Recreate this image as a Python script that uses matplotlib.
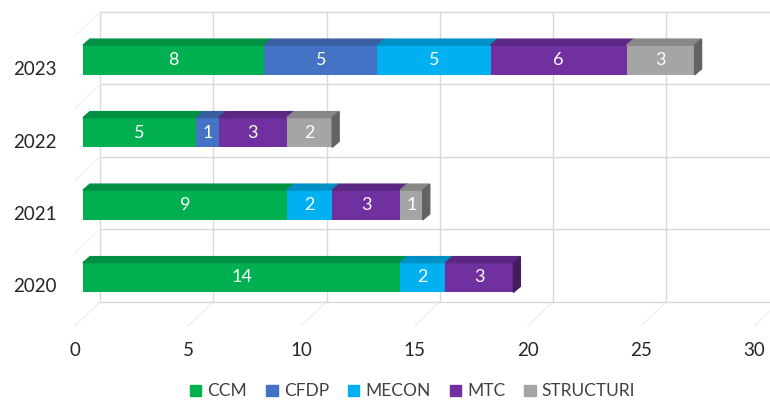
import matplotlib.pyplot as plt
from matplotlib.patches import Polygon, Patch
from matplotlib.transforms import ScaledTranslation
import numpy as np

years = ["2020", "2021", "2022", "2023"]
series = ["CCM", "CFDP", "MECON", "MTC", "STRUCTURI"]
ccm = [14, 9, 5, 8]
cfdp = [0, 0, 1, 5]
mecon = [2, 2, 0, 5]
mtc = [3, 3, 3, 6]
structuri = [0, 1, 2, 3]
colors = ["#00b050", "#4472c4", "#00b0f0", "#7030a0", "#a5a5a5"]
x_ticks = [0, 5, 10, 15, 20, 25, 30]

plt.rcParams["font.family"] = ["Lato", "DejaVu Sans"]

# pixel offsets for the fake 3D look
BACK = (17, 12)     # back wall relative to bar fronts
FLOOR = (-8, -12)   # floor front edge
DEPTH = (7, 6)      # bar depth

fig = plt.figure(figsize=(7.7, 4.12), dpi=100)
ax = fig.add_axes([83 / 770, 98.25 / 412, 679.5 / 770, 290 / 412])
ax.set_xlim(0, 30)
ax.set_ylim(-0.5, 3.5)
for s in ax.spines.values():
    s.set_visible(False)
ax.patch.set_alpha(0)


def off(x, y, dx, dy):
    X, Y = ax.transData.transform((x, y))
    return ax.transData.inverted().transform((X + dx, Y + dy))


def shade(c, f):
    r, g, b = [int(c[i:i + 2], 16) / 255 for i in (1, 3, 5)]
    return (r * f, g * f, b * f)


grid = "#d9d9d9"
# back wall
for v in x_ticks:
    p0 = off(v, -0.5, *BACK)
    p1 = off(v, 3.5, *BACK)
    ax.plot([p0[0], p1[0]], [p0[1], p1[1]], color=grid, lw=1, clip_on=False, zorder=0)
    p2 = off(v, -0.5, *FLOOR)
    ax.plot([p0[0], p2[0]], [p0[1], p2[1]], color="#efefef", lw=1, clip_on=False, zorder=0)
for b in np.arange(-0.5, 4, 1):
    p0 = off(0, b, *BACK)
    p1 = off(32, b, *BACK)
    ax.plot([p0[0], p1[0]], [p0[1], p1[1]], color=grid, lw=1, clip_on=False, zorder=0)
    p2 = off(0, b, *FLOOR)
    ax.plot([p0[0], p2[0]], [p0[1], p2[1]], color="#f2f2f2", lw=1, clip_on=False, zorder=0)

data = [ccm, cfdp, mecon, mtc, structuri]
y = np.arange(len(years))
h = 0.41
left = np.zeros(len(years))
for name, vals, c in zip(series, data, colors):
    vals = np.array(vals, dtype=float)
    ax.barh(y, vals, left=left, height=h, color=c, zorder=2, label=name)
    for yi, l, v in zip(y, left, vals):
        if v == 0:
            continue
        top = yi + h / 2
        pts = [(l, top), (l + v, top), off(l + v, top, *DEPTH), off(l, top, *DEPTH)]
        ax.add_patch(Polygon(pts, closed=True, color=shade(c, 0.82), zorder=2, clip_on=False))
        ax.text(l + v / 2, yi, f"{int(v)}", ha="center", va="center",
                color="white", fontsize=13, zorder=4)
    left = left + vals

# right side faces of each stack
for yi, total in zip(y, left):
    last = [c for vals, c in zip(data, colors) if vals[yi] > 0][-1]
    top = yi + h / 2
    bot = yi - h / 2
    pts = [(total, bot), (total, top), off(total, top, *DEPTH), off(total, bot, *DEPTH)]
    ax.add_patch(Polygon(pts, closed=True, color=shade(last, 0.6), zorder=3, clip_on=False))

ax.set_yticks(y, years)
ax.set_xticks(x_ticks)
ax.tick_params(axis="both", length=0, labelsize=13.5, colors="#262626")
ax.tick_params(axis="y", pad=19)
ax.tick_params(axis="x", pad=20)
for lab in ax.get_yticklabels():
    lab.set_transform(lab.get_transform() + ScaledTranslation(0, -8 / 100, fig.dpi_scale_trans))
for lab in ax.get_xticklabels():
    lab.set_transform(lab.get_transform() + ScaledTranslation(-8 / 100, 0, fig.dpi_scale_trans))

handles = [Patch(color=c, label=s) for s, c in zip(series, colors)]
fig.legend(handles=handles, loc="center", bbox_to_anchor=(0.536, 0.05), ncol=5,
           frameon=False, fontsize=12.5, handlelength=0.65, handleheight=0.65,
           handletextpad=0.35, columnspacing=1.1, labelcolor="#404040")

fig.savefig("out.png", dpi=100)
